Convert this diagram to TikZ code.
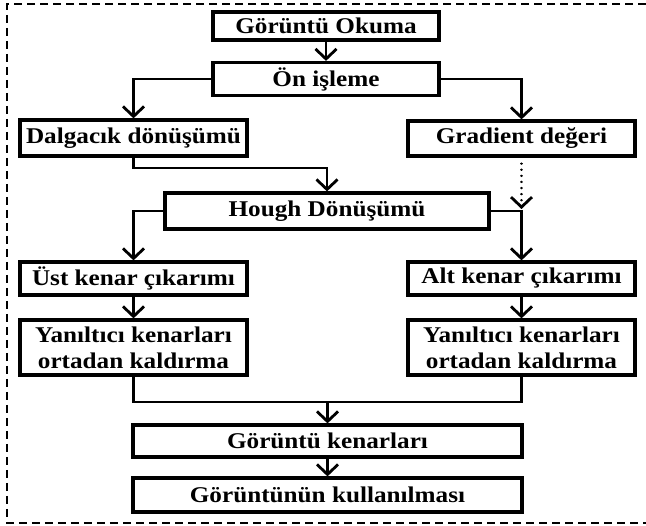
\documentclass[tikz,border=0pt]{standalone}
\usepackage{fontspec}
\setmainfont[FakeStretch=1.12]{Liberation Serif}
\usetikzlibrary{arrows.meta}
\begin{document}
\begin{tikzpicture}[x=1pt,y=-1pt,
  box/.style={draw,line width=3.2pt,inner sep=0pt,align=center,
    font=\fontsize{22.5}{26}\selectfont\bfseries},
  wbox/.style={box,minimum width=227pt},
  arr/.style={line width=2.8pt,-{Straight Barb[length=10pt,width=21pt,line width=2.8pt]}},
  ln/.style={line width=2.8pt},
  dots/.style={line width=2.4pt,dash pattern=on 0.1pt off 6pt,line cap=round},
  frame/.style={line width=1.6pt,dash pattern=on 8pt off 5pt}]
\useasboundingbox (0,0) rectangle (646,526);
\draw[frame] (646,4) -- (7,4) -- (7,523) -- (646,523);

\node[box,minimum width=226pt,minimum height=28pt] (A) at (326,26) {Görüntü Okuma};
\node[box,minimum width=226pt,minimum height=33pt] (B) at (326,79) {Ön işleme};
\node[wbox,minimum height=36pt] (C) at (133.5,138) {Dalgacık dönüşümü};
\node[wbox,minimum height=35pt] (D) at (521.5,138.5) {Gradient değeri};
\node[box,minimum width=324pt,minimum height=36pt] (E) at (327,211) {Hough Dönüşümü};
\node[wbox,minimum height=33pt] (F) at (133.5,278.5) {Üst kenar çıkarımı};
\node[wbox,minimum height=33pt] (G) at (521.5,278.5) {Alt kenar çıkarımı};
\node[wbox,minimum height=55pt] (H) at (133.5,347.5) {Yanıltıcı kenarları\\ortadan kaldırma};
\node[wbox,minimum height=55pt] (I) at (521.5,347.5) {Yanıltıcı kenarları\\ortadan kaldırma};
\node[box,minimum width=389pt,minimum height=32pt] (J) at (327.5,441) {Görüntü kenarları};
\node[box,minimum width=389pt,minimum height=34pt] (K) at (327.5,495) {Görüntünün kullanılması};

\coordinate (c1) at (133.5,168);
\coordinate (c2) at (327,168);
\coordinate (hj) at (521.5,209);
\coordinate (mj) at (327.5,402);

\draw[arr] (A) -- (B);
\draw[arr] (B.west) -| (C.north);
\draw[arr] (B.east) -| (D.north);
\draw[arr] (C.south) -- (c1) -- (c2) -- (E.north);
\draw[dots] ([yshift=-6pt]D.south) -- ([yshift=6pt]hj);
\draw[arr] ([yshift=0.5pt]hj) -- (hj);
\draw[arr] (E.east) -| (G.north);
\draw[arr] (E.west) -| (F.north);
\draw[arr] (F) -- (H);
\draw[arr] (G) -- (I);
\draw[ln] (H.south) |- (mj) -| (I.south);
\draw[arr] (mj) -- (J.north);
\draw[arr] (J) -- (K);
\end{tikzpicture}
\end{document}
